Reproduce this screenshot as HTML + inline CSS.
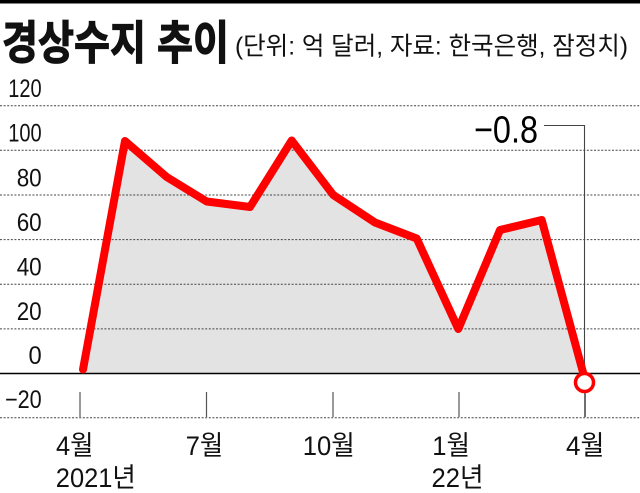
<!DOCTYPE html>
<html>
<head>
<meta charset="utf-8">
<style>
  html,body{margin:0;padding:0;background:#fff;}
  svg{display:block;}
  .k{font-family:"Liberation Sans","Noto Sans CJK KR",sans-serif;}
</style>
</head>
<body>
<svg width="640" height="493" viewBox="0 0 640 493" xmlns="http://www.w3.org/2000/svg">
  <rect x="0" y="0" width="640" height="493" fill="#fff"/>
  <!-- top bar -->
  <rect x="0" y="0" width="640" height="3.5" fill="#000"/>

  <!-- title -->
  <text x="2" y="59" class="k" font-size="46" font-weight="bold" fill="#111" stroke="#111" stroke-width="1.2" textLength="227" lengthAdjust="spacingAndGlyphs">경상수지 추이</text>
  <text x="235" y="54.5" class="k" font-size="25" fill="#111" textLength="393" lengthAdjust="spacingAndGlyphs">(단위: 억 달러, 자료: 한국은행, 잠정치)</text>

  <!-- fill area -->
  <polygon fill="#e3e3e3" points="82,373.5 82,366 124,137 165.7,173 205.7,197.5 249,203 290.7,136.5 332.3,191 374,218.5 415.7,234.5 457.3,325 499,226 540.7,216 583,371 583,373.5"/>

  <!-- gridlines -->
  <g stroke="#444" stroke-width="1" stroke-dasharray="2,1.6">
    <line x1="0" y1="105.7" x2="640" y2="105.7"/>
    <line x1="0" y1="150.3" x2="640" y2="150.3"/>
    <line x1="0" y1="195" x2="640" y2="195"/>
    <line x1="0" y1="239.6" x2="640" y2="239.6"/>
    <line x1="0" y1="284.2" x2="640" y2="284.2"/>
    <line x1="0" y1="328.9" x2="640" y2="328.9"/>
    <line x1="0" y1="417.8" x2="640" y2="417.8"/>
  </g>
  <!-- zero line -->
  <line x1="0" y1="373.5" x2="640" y2="373.5" stroke="#000" stroke-width="1.6"/>

  <!-- ticks -->
  <g stroke="#555" stroke-width="1.2">
    <line x1="80" y1="392" x2="80" y2="417"/>
    <line x1="206.5" y1="392" x2="206.5" y2="417"/>
    <line x1="333" y1="392" x2="333" y2="417"/>
    <line x1="459" y1="392" x2="459" y2="417"/>
    <line x1="585" y1="390" x2="585" y2="417" stroke="#111"/>
  </g>

  <!-- y labels -->
  <g class="k" font-size="25" fill="#111">
    <text x="8.3" y="97" textLength="33.4" lengthAdjust="spacingAndGlyphs">120</text>
    <text x="8.3" y="141.5" textLength="33.4" lengthAdjust="spacingAndGlyphs">100</text>
    <text x="16.7" y="186.5" textLength="25" lengthAdjust="spacingAndGlyphs">80</text>
    <text x="16.7" y="231" textLength="25" lengthAdjust="spacingAndGlyphs">60</text>
    <text x="16.7" y="275.5" textLength="25" lengthAdjust="spacingAndGlyphs">40</text>
    <text x="16.7" y="320" textLength="25" lengthAdjust="spacingAndGlyphs">20</text>
    <text x="28.5" y="364" textLength="13.2" lengthAdjust="spacingAndGlyphs">0</text>
    <text x="5" y="408" textLength="36.7" lengthAdjust="spacingAndGlyphs">−20</text>
  </g>

  <!-- x labels -->
  <g class="k" font-size="27" fill="#111">
    <text x="56" y="455" textLength="37.5" lengthAdjust="spacingAndGlyphs">4월</text>
    <text x="185.7" y="455" textLength="37.5" lengthAdjust="spacingAndGlyphs">7월</text>
    <text x="302.8" y="455" textLength="52" lengthAdjust="spacingAndGlyphs">10월</text>
    <text x="432.3" y="455" textLength="37.7" lengthAdjust="spacingAndGlyphs">1월</text>
    <text x="566" y="455" textLength="38.4" lengthAdjust="spacingAndGlyphs">4월</text>
    <text x="55.8" y="487" textLength="80" lengthAdjust="spacingAndGlyphs">2021년</text>
    <text x="431.5" y="487" textLength="52" lengthAdjust="spacingAndGlyphs">22년</text>
  </g>

  <!-- leader line -->
  <polyline points="544,125.5 584.5,125.5 584.5,372" fill="none" stroke="#444" stroke-width="1.1"/>
  <text x="474" y="142.5" class="k" font-size="38" fill="#000" textLength="64" lengthAdjust="spacingAndGlyphs">−0.8</text>

  <!-- red series -->
  <polyline fill="none" stroke="#ff0000" stroke-width="8" stroke-linejoin="round" stroke-linecap="round"
    points="83,369.5 125,141 166.7,177 206.7,201.5 250,207 291.7,140.5 333.3,195 375,222.5 416.7,238.5 458.3,329 500,230 541.7,220 584,376"/>
  <circle cx="584.5" cy="382.5" r="9" fill="#fff" stroke="#ff0000" stroke-width="3.5"/>
</svg>
</body>
</html>
